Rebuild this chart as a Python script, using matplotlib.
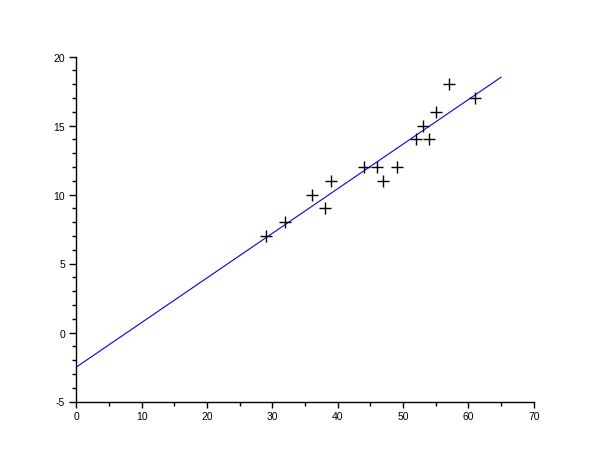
import numpy as np
import matplotlib
matplotlib.use("Agg")
import matplotlib.pyplot as plt
from matplotlib.ticker import MultipleLocator

x = [29, 32, 36, 38, 39, 44, 46, 47, 49, 52, 53, 54, 55, 57, 61]
y = [7, 8, 10, 9, 11, 12, 12, 11, 12, 14, 15, 14, 16, 18, 17]

# least squares line drawn over 0..65
fit_x = [0, 65]

plt.rcParams['font.family'] = ['Liberation Sans', 'DejaVu Sans']
plt.rcParams['axes.unicode_minus'] = False

def main():
    fig = plt.figure(figsize=(6.1, 4.6), dpi=100)
    ax = fig.add_axes([0.125, 0.125, 0.75, 0.75])

    slope, icpt = np.polyfit(x, y, 1)
    lx = np.array(fit_x)
    ax.plot(lx, slope * lx + icpt, color='blue', lw=0.8)
    ax.plot(x, y, '+', color='black', ms=9, mew=1.0, ls='none')

    ax.set_xlim(0, 70)
    ax.set_ylim(-5, 20)
    ax.xaxis.set_major_locator(MultipleLocator(10))
    ax.xaxis.set_minor_locator(MultipleLocator(5))
    ax.yaxis.set_major_locator(MultipleLocator(5))
    ax.yaxis.set_minor_locator(MultipleLocator(1))

    for s in ['top', 'right']:
        ax.spines[s].set_visible(False)
    for s in ['left', 'bottom']:
        ax.spines[s].set_linewidth(1.0)

    ax.tick_params(axis='x', which='major', length=4, width=1, pad=2.5, labelsize=7.5)
    ax.tick_params(axis='x', which='minor', length=3, width=1)
    ax.tick_params(axis='y', which='major', length=5, width=1, pad=3, labelsize=7.5)
    ax.tick_params(axis='y', which='minor', length=3, width=1)

    plt.savefig("out.png")

if __name__ == "__main__":
    main()
